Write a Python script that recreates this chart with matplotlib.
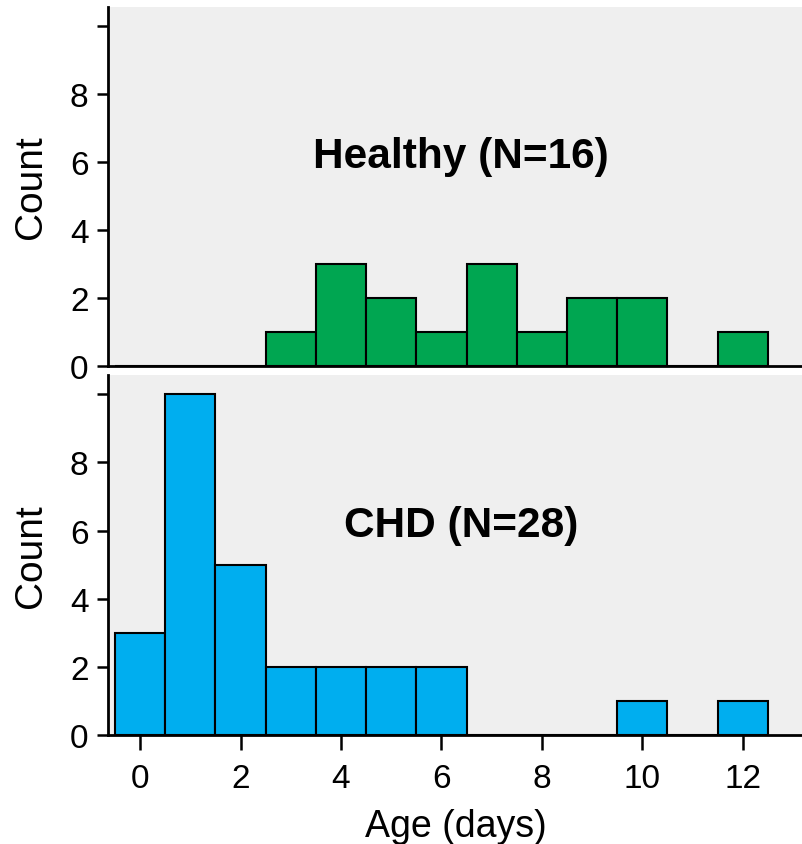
import numpy as np
import matplotlib.pyplot as plt

plt.rcParams['font.family'] = ['Liberation Sans', 'DejaVu Sans']

ages = np.arange(0, 13)
healthy_counts = [0, 0, 0, 1, 3, 2, 1, 3, 1, 2, 2, 0, 1]
chd_counts = [3, 10, 5, 2, 2, 2, 2, 0, 0, 0, 1, 0, 1]
panel_titles = ["Healthy (N=16)", "CHD (N=28)"]
panel_colors = ["#00a651", "#00aeef"]
yticks = [0, 2, 4, 6, 8, 10]
ytick_labels = ["0", "2", "4", "6", "8", ""]
xticks = [0, 2, 4, 6, 8, 10, 12]

fig = plt.figure(figsize=(8.03, 8.45), dpi=100)
ax_top = fig.add_axes([0.1345, 0.5657, 0.8655, 0.4248])
ax_bot = fig.add_axes([0.1345, 0.129, 0.8655, 0.4255])

for ax, counts, title, color in zip([ax_top, ax_bot], [healthy_counts, chd_counts],
                                    panel_titles, panel_colors):
    ax.set_facecolor("#efefef")
    ax.bar(ages, counts, width=1.0, color=color, edgecolor="black", linewidth=1.5)
    ax.set_xlim(-0.64, 13.2)
    ax.set_ylim(0, 10.55)
    ax.set_yticks(yticks)
    ax.set_yticklabels(ytick_labels, fontsize=24)
    ax.set_ylabel("Count", fontsize=28, labelpad=15)
    for s in ["top", "right"]:
        ax.spines[s].set_visible(False)
    for s in ["left", "bottom"]:
        ax.spines[s].set_linewidth(2)
    ax.tick_params(axis="y", length=8, width=1.8, pad=6)
    ax.text(6.39, 5.84, title, fontsize=30.5, fontweight="bold",
            ha="center", va="baseline")

ax_top.set_xticks([])
ax_bot.set_xticks(xticks)
ax_bot.set_xticklabels([str(x) for x in xticks], fontsize=24)
ax_bot.tick_params(axis="x", length=11, width=1.8, pad=9)
ax_bot.set_xlabel("Age (days)", fontsize=27, labelpad=10)

fig.savefig("out.png", dpi=100)
